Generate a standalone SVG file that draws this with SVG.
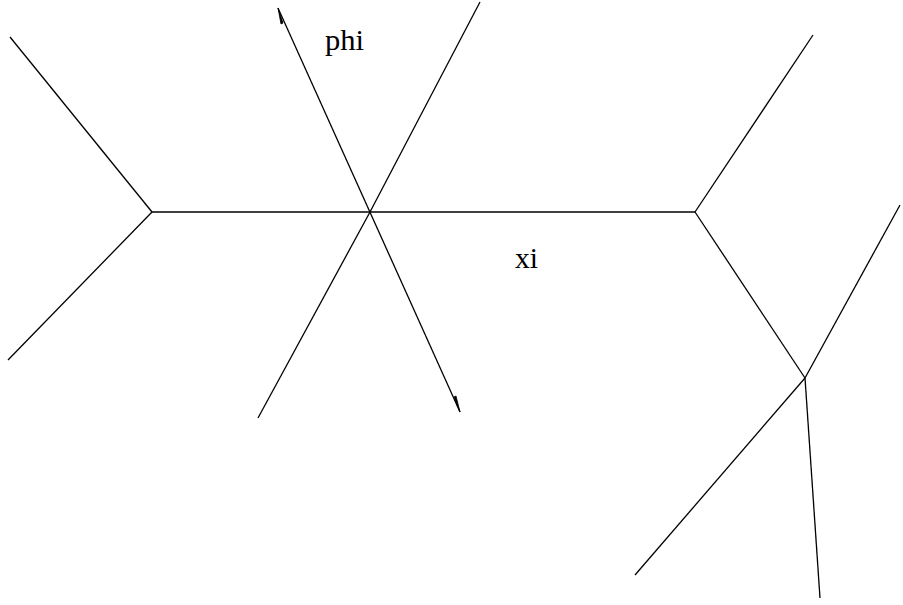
<svg xmlns="http://www.w3.org/2000/svg" width="903" height="605" viewBox="0 0 903 605">
<style>
.e{stroke:#000;stroke-width:1.3;fill:none}
.t{font-family:"Liberation Serif",serif;font-size:30px;fill:#000}
.h{fill:#000;stroke:#000;stroke-width:0.8}
</style>
<rect width="903" height="605" fill="#fff"/>
<g id="connectors">
<line class="e" x1="152" y1="212" x2="10" y2="37"/>
<line class="e" x1="152" y1="212" x2="8" y2="360"/>
<line class="e" x1="152" y1="212" x2="695" y2="212"/>
<line class="e" x1="370" y1="212" x2="480" y2="2"/>
<line class="e" x1="370" y1="212" x2="258" y2="418"/>
<line class="e" x1="278" y1="8" x2="460" y2="412"/>
<polygon class="h" points="278,8 283,23 281,24"/>
<polygon class="h" points="460,412 454,397 456,396"/>
<line class="e" x1="695" y1="212" x2="813" y2="35"/>
<line class="e" x1="695" y1="212" x2="805" y2="378"/>
<line class="e" x1="805" y1="378" x2="900" y2="205"/>
<line class="e" x1="805" y1="378" x2="635" y2="575"/>
<line class="e" x1="805" y1="378" x2="820" y2="598"/>
</g>
<g id="label-phi"><text class="t" x="325" y="50" textLength="39" lengthAdjust="spacingAndGlyphs">phi</text></g>
<g id="label-xi"><text class="t" x="515" y="268" textLength="23" lengthAdjust="spacingAndGlyphs">xi</text></g>
</svg>
